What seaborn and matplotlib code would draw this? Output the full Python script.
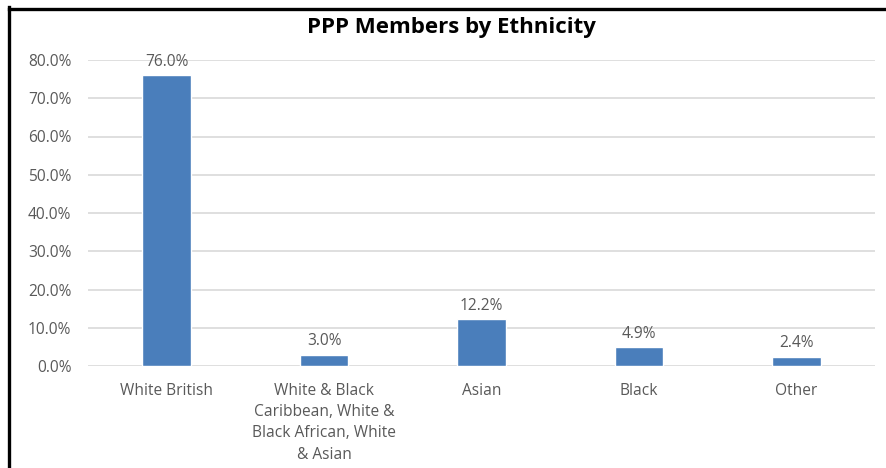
import matplotlib
matplotlib.use("Agg")
import matplotlib.pyplot as plt
from matplotlib.lines import Line2D
import seaborn as sns
import pandas as pd

categories = ["White British",
              "White & Black\nCaribbean, White &\nBlack African, White\n& Asian",
              "Asian", "Black", "Other"]
values = [76.0, 3.0, 12.2, 4.9, 2.4]
title = "PPP Members by Ethnicity"

df = pd.DataFrame({"cat": categories, "val": values})

sns.set_theme(style="white")
plt.rcParams['font.family'] = ['Open Sans', 'DejaVu Sans']

W, H = 886, 468
fig = plt.figure(figsize=(W / 100, H / 100), dpi=100)
ax = fig.add_axes([88 / W, 1 - 366 / H, (875 - 88) / W, (366 - 60) / H])

sns.barplot(data=df, x="cat", y="val", color="#4a7ebb", saturation=1,
            width=0.31, ax=ax, zorder=3)

ax.set_ylim(0, 80)
ax.set_xlim(-0.5, len(categories) - 0.5)
ax.set_yticks(range(0, 81, 10))
ax.set_yticklabels([f"{t:.1f}%" for t in range(0, 81, 10)])
ax.yaxis.grid(True, color="#d9d9d9", lw=1.2, zorder=0)
ax.set_axisbelow(True)
for s in ax.spines.values():
    s.set_visible(False)
ax.tick_params(axis="y", length=0, pad=12, labelsize=11.2, labelcolor="#595959")
ax.tick_params(axis="x", length=0, pad=12, labelsize=11.2, labelcolor="#595959")
ax.set_xlabel("")
ax.set_ylabel("")
for lbl in ax.get_xticklabels():
    lbl.set_linespacing(1.45)

for i, v in enumerate(values):
    ax.annotate(f"{v:.1f}%", (i, v), xytext=(0, 4), textcoords="offset points",
                ha="center", va="bottom", fontsize=11.2, color="#595959")

fig.text(451 / W, 1 - 27 / H, title, ha="center", va="center",
         fontsize=16, fontweight="bold", color="black")

fig.add_artist(Line2D([8.5 / W, 8.5 / W], [0, 1 - 7 / H], transform=fig.transFigure,
                      color="black", lw=2.4, solid_capstyle="projecting"))
fig.add_artist(Line2D([8.5 / W, 1], [1 - 8.5 / H, 1 - 8.5 / H], transform=fig.transFigure,
                      color="black", lw=2.4, solid_capstyle="projecting"))

fig.savefig("out.png", dpi=100, facecolor="white")
